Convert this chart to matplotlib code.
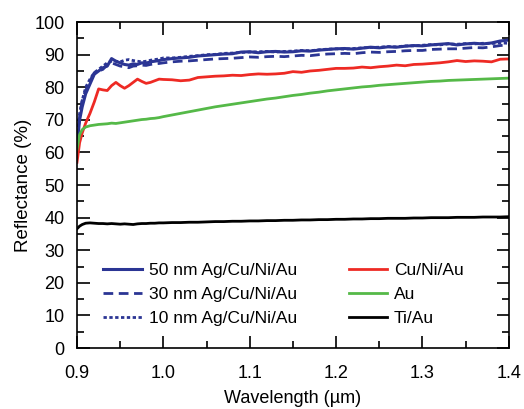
import matplotlib
matplotlib.use('Agg')
import matplotlib.pyplot as plt
from matplotlib.ticker import MultipleLocator

plt.rcParams['font.family'] = ['Liberation Sans', 'DejaVu Sans']

# Wavelength grid (um)
wl = [0.900, 0.903, 0.906, 0.910, 0.915, 0.920, 0.925, 0.930, 0.935, 0.940,
      0.945, 0.950, 0.955, 0.960, 0.965, 0.970, 0.975, 0.980, 0.985, 0.990,
      0.995, 1.000,
      1.01, 1.02, 1.03, 1.04, 1.05, 1.06, 1.07, 1.08, 1.09, 1.10,
      1.11, 1.12, 1.13, 1.14, 1.15, 1.16, 1.17, 1.18, 1.19, 1.20,
      1.21, 1.22, 1.23, 1.24, 1.25, 1.26, 1.27, 1.28, 1.29, 1.30,
      1.31, 1.32, 1.33, 1.34, 1.35, 1.36, 1.37, 1.38, 1.39, 1.40]

# Reflectance (%)
ag50 = [62, 70, 74, 78, 81, 84, 85, 86, 86.5, 88.8,
        88, 87.5, 87, 86.8, 87.2, 87, 87.5, 87.4, 87.8, 88,
        88.2, 88.5,
        88.8, 89, 89.2, 89.6, 89.8, 90, 90.2, 90.3, 90.8, 90.9,
        90.6, 90.9, 91.0, 90.8, 90.9, 91.2, 91.1, 91.4, 91.6, 91.8,
        91.9, 91.7, 92.0, 92.3, 92.1, 92.4, 92.3, 92.6, 92.8, 92.7,
        93.0, 93.2, 93.4, 93.0, 93.3, 93.5, 93.3, 93.6, 94.2, 94.5]

ag30 = [64, 71, 76, 79, 82, 84.5, 85, 85.5, 87, 87.5,
        87, 86.5, 86.3, 86, 86.5, 86.6, 86.8, 86.7, 87, 87.2,
        87.3, 87.5,
        87.8, 88, 88.1, 88.3, 88.5, 88.7, 88.8, 88.9, 89.1, 89.3,
        89.2, 89.4, 89.5, 89.4, 89.6, 89.8, 89.7, 90.0, 90.2, 90.3,
        90.4, 90.3, 90.6, 90.8, 90.7, 90.9, 91.0, 91.2, 91.3, 91.3,
        91.6, 91.7, 91.8, 91.8, 92.0, 92.2, 92.1, 92.4, 92.8, 93.0]

ag10 = [66, 72, 76, 80, 82.5, 84.5, 85.5, 86.5, 87.5, 88,
        88, 87.8, 88.3, 88.5, 88.2, 88.0, 87.8, 88.0, 88.3, 88.5,
        88.7, 89,
        89.0, 89.2, 89.5, 89.7, 90.0, 90.1, 90.4, 90.5, 90.7, 90.8,
        90.9, 91.0, 90.8, 91.0, 91.1, 91.3, 91.2, 91.5, 91.7, 91.8,
        91.7, 91.9, 92.1, 92.2, 92.3, 92.5, 92.4, 92.7, 92.7, 92.9,
        93.1, 93.0, 93.3, 93.2, 93.4, 93.3, 93.5, 93.4, 93.6, 93.5]

cu_ni_au = [57, 63, 66, 69, 72, 75.5, 79.5, 79.2, 79, 80.5,
            81.5, 80.5, 79.7, 80.5, 81.5, 82.5, 81.8, 81.2, 81.5, 82,
            82.5, 82.4,
            82.3, 82.0, 82.2, 83, 83.2, 83.4, 83.5, 83.7, 83.6, 83.9,
            84.1, 84.0, 84.1, 84.3, 84.8, 84.6, 85.0, 85.2, 85.5, 85.8,
            85.8, 85.9, 86.2, 86.0, 86.3, 86.5, 86.8, 86.6, 87.0, 87.1,
            87.3, 87.5, 87.8, 88.2, 87.9, 88.1, 88.0, 87.8, 88.6, 88.7]

au = [61, 65.5, 67, 67.8, 68.2, 68.4, 68.6, 68.7, 68.8, 69.0,
      68.9, 69.1, 69.3, 69.5, 69.7, 69.9, 70.1, 70.2, 70.4, 70.5,
      70.7, 71.0,
      71.5, 72.0, 72.5, 73.0, 73.5, 74.0, 74.4, 74.8, 75.2, 75.6,
      76.0, 76.4, 76.7, 77.1, 77.5, 77.8, 78.2, 78.5, 78.9, 79.2,
      79.5, 79.8, 80.1, 80.3, 80.6, 80.8, 81.0, 81.2, 81.4, 81.6,
      81.8, 81.9, 82.1, 82.2, 82.3, 82.4, 82.5, 82.6, 82.7, 82.8]

ti_au = [36.6, 37.4, 37.9, 38.3, 38.4, 38.3, 38.2, 38.2, 38.1, 38.2,
         38.1, 38.0, 38.1, 38.0, 37.9, 38.1, 38.2, 38.2, 38.3, 38.3,
         38.4, 38.4,
         38.5, 38.5, 38.6, 38.6, 38.7, 38.8, 38.8, 38.9, 38.9, 39.0,
         39.0, 39.1, 39.1, 39.2, 39.2, 39.3, 39.3, 39.4, 39.4, 39.5,
         39.5, 39.6, 39.6, 39.7, 39.7, 39.8, 39.8, 39.8, 39.9, 39.9,
         40.0, 40.0, 40.0, 40.1, 40.1, 40.1, 40.2, 40.2, 40.2, 40.3]

blue = '#2b3594'
red = '#ee2a24'
green = '#55b948'

fig = plt.figure(figsize=(5.24, 4.09), dpi=100)
ax = fig.add_axes([0.147, 0.149, 0.824, 0.797])

ax.plot(wl, ag50, color=blue, lw=2.2, label='50 nm Ag/Cu/Ni/Au')
ax.plot(wl, ag30, color=blue, lw=2.0, dashes=(3.5, 2), label='30 nm Ag/Cu/Ni/Au')
ax.plot(wl, ag10, color=blue, lw=2.0, dashes=(1.2, 0.9), label='10 nm Ag/Cu/Ni/Au')
ax.plot(wl, cu_ni_au, color=red, lw=2.0, label='Cu/Ni/Au')
ax.plot(wl, au, color=green, lw=2.0, label='Au')
ax.plot(wl, ti_au, color='black', lw=2.0, label='Ti/Au')

ax.set_xlim(0.9, 1.4)
ax.set_ylim(0, 100)
ax.xaxis.set_major_locator(MultipleLocator(0.1))
ax.xaxis.set_minor_locator(MultipleLocator(0.05))
ax.yaxis.set_major_locator(MultipleLocator(10))
ax.yaxis.set_minor_locator(MultipleLocator(5))
ax.xaxis.set_major_formatter(plt.FormatStrFormatter('%.1f'))

ax.tick_params(which='both', direction='in', top=True, right=True, labelsize=13, width=1.2)
ax.tick_params(which='major', length=9)
ax.tick_params(which='minor', length=5)
ax.tick_params(axis='x', pad=12)
ax.tick_params(axis='y', pad=9)
for sp in ax.spines.values():
    sp.set_linewidth(1.2)

ax.set_xlabel('Wavelength (\u00b5m)', fontsize=13, labelpad=6)
ax.set_ylabel('Reflectance (%)', fontsize=13.5, labelpad=2)

ax.legend(ncol=2, frameon=False, fontsize=12.5, loc='lower left',
          bbox_to_anchor=(0.025, 0.02), handlelength=2.2, handletextpad=0.4,
          columnspacing=3.0, labelspacing=0.5)

plt.savefig('out.png', dpi=100)
plt.close(fig)
